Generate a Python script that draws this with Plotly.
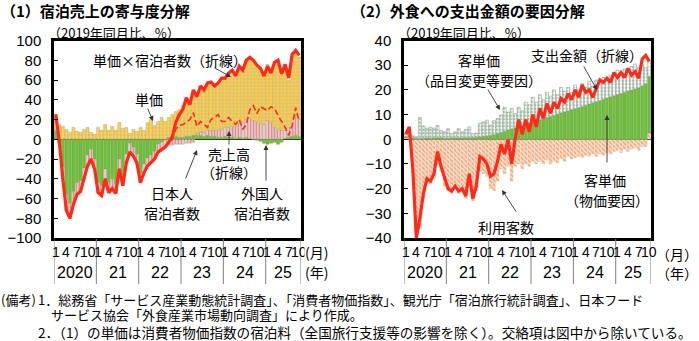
import plotly.graph_objects as go

W, H = 699, 341

# ---------------- data ----------------
month_index = list(range(70))          # Jan 2020 .. Oct 2025
month_tick_months = [1, 4, 7, 10]
year_labels = ["2020", "21", "22", "23", "24", "25"]

# Panel 1 : 宿泊売上の寄与度分解
p1_price = [15, 15, 13, 10, 7, 12, 8, 7, 10, 12, 7, 5,
            12, 9, 15, 9, 13, 9, 17, 11, 12, 6, 10, 8,
            12, 9, 17, 20, 14, 18, 22, 18, 20, 22, 25, 28,
            32, 38, 33, 45, 36, 45, 42, 47, 48, 44, 47, 51,
            49, 54, 56, 50, 57, 52, 59, 61, 60, 58, 56, 50,
            57, 52, 64, 68, 56, 65, 48, 67, 64, 63]
p1_japanese = [8, -3, -28, -56, -65, -53, -44, -42, -29, -16, -10, -20,
               -44, -47, -30, -44, -40, -45, -20, -37, -15, -4, -8, -15,
               -35, -25, -19, -16, -12, -5, -3, -1, 2, 3, 3, 2,
               2, 3, 3, 4, 4, 4, 3, 4, 3, 3, 2, 2,
               3, 2, 2, 1, 2, 1, 2, 1, 0, -1, -2, -4,
               -5, -4, -3, -5, -3, 1, 2, 3, 4, 3]
p1_foreign = [2, -2, -12, -16, -15, -13, -12, -11, -11, -11, -10, -10,
              -10, -10, -10, -10, -10, -10, -10, -10, -9, -9, -9, -9,
              -9, -9, -8, -8, -8, -8, -7, -7, -6, -6, -5, -5,
              -5, -4, -4, -3, 2, 3, 4, 5, 6, 6, 7, 8,
              9, 10, 11, 12, 14, 16, 18, 20, 19, 17, 16, 15,
              19, 17, 12, 10, 9, 8, 10, 14, 20, 17]
p1_price_x_guests = [25, -2, -40, -72, -80, -66, -56, -53, -40, -27, -20, -30,
                     -54, -57, -40, -54, -50, -55, -30, -47, -24, -13, -17, -24,
                     -44, -34, -27, -24, -20, -13, -10, -8, -3, 2, 17, 25,
                     30, 42, 35, 50, 43, 54, 50, 57, 58, 54, 57, 62,
                     62, 67, 70, 64, 74, 70, 80, 83, 80, 75, 72, 64,
                     74, 67, 78, 80, 66, 76, 62, 86, 90, 85]
p1_sales = [25, -2, -40, -72, -80, -66, -56, -53, -40, -27, -20, -30,
            -54, -57, -40, -54, -50, -55, -30, -47, -24, -13, -17, -24,
            -44, -34, -27, -24, -20, -13, -10, -8, -3, 0, 10, 14,
            15, 17, 20, 27, 13, 18, 15, 12, 20, 22, 25, 18,
            18, 22, 18, 15, 20, 10, 15, 30, 34, 26, 33, 31,
            29, 33, 31, 24, 18, 12, 4, 14, 32, 18]

# Panel 2 : 外食への支出金額の要因分解
p2_customers = [0.5, 1, -14, -39, -36, -24, -18, -18, -16, -10, -13, -19,
                -21, -22, -20, -22, -21, -24, -18, -25, -21, -13, -14, -15,
                -20, -21, -17, -12, -14, -11, -17, -11, -10, -12, -10, -11,
                -9, -10, -9, -10, -8.5, -10, -9, -9.5, -8, -9, -7, -8,
                -7.5, -7, -7.5, -6.5, -7, -6, -7, -6, -6.5, -5.5, -6, -5,
                -4.5, -5.5, -4, -5, -4, -3.5, -4.5, -3, -3, 2.5]
p2_unit_price = [0.5, 0.6, 0.6, 0.4, 0.3, 0.4, 0.5, 0.4, 0.5, 0.6, 0.5, 0.4,
                 0.4, 0.5, 0.5, 0.5, 0.5, 0.6, 0.6, 0.7, 0.8, 0.9, 1.2, 1.4,
                 1.6, 1.9, 2.3, 2.8, 3.2, 3.7, 4.2, 4.6, 5.1, 5.6, 6.2, 6.6,
                 7.0, 7.4, 7.9, 8.3, 8.8, 9.2, 9.7, 10.2, 10.6, 11.1, 11.5, 12.0,
                 12.4, 12.9, 13.3, 13.8, 14.3, 14.8, 15.2, 15.7, 16.2, 16.7, 17.2, 17.6,
                 18.1, 18.6, 19.0, 19.5, 19.9, 20.4, 20.9, 21.6, 22.5, 23.0]
p2_item_change = [1.2, 2.5, 0.8, 0.6, 8.5, 5.0, 4.0, 4.5, 4.0, 5.0, 3.0, 2.6,
                  3.9, 1.8, 2.5, 3.8, 2.5, 3.4, 4.4, 1.6, 1.7, 5.5, 5.8, 6.3,
                  4.1, 5.6, 6.1, 7.0, 9.8, 7.3, 8.3, 5.8, 7.9, 5.9, 8.8, 7.4,
                  10.0, 7.6, 10.1, 7.7, 10.2, 8.3, 10.3, 7.8, 10.4, 8.4, 9.5, 7.0,
                  9.6, 7.1, 9.2, 7.2, 9.2, 6.7, 8.8, 7.3, 8.8, 7.3, 8.8, 6.9,
                  9.9, 8.4, 9.5, 6.5, 9.6, 10.1, 8.1, 8.9, 6.5, 6.5]
p2_spending = [2, 5, -12, -40, -32, -22, -16, -17, -14, -5, -11, -16,
               -20, -21, -19, -21, -20, -23, -14, -24, -19, -7, -8, -10,
               -15, -14, -9, -2, -6, 0, -10, 0, 8, 2, 8, 3,
               10, 5, 12.5, 8.5, 14.5, 10.5, 15, 12.5, 16.5, 15, 18.5, 16,
               20, 17, 22, 19, 20, 17, 20.5, 24, 23, 24.7, 23, 27,
               25, 27, 25, 28.7, 26, 27.4, 24.7, 32.5, 34, 31.5]

# ---------------- style ----------------
JP = "Noto Sans CJK JP"
NUM = "Liberation Sans Narrow, Arial Narrow, Liberation Sans, sans-serif"
RED = "#FF2A1A"
GREEN = "#70BF3C"
EDGE = "#9A9A9A"


def px(x):
    return x / W


def py(y):
    return 1 - y / H


fig = go.Figure()

# panel 1 bars (stack order: japanese, foreign, price)
fig.add_trace(go.Bar(x=month_index, y=p1_japanese, name="日本人宿泊者数",
                     marker=dict(color=GREEN, line=dict(color="#5A9A32", width=0.4)),
                     xaxis="x", yaxis="y"))
fig.add_trace(go.Bar(x=month_index, y=p1_foreign, name="外国人宿泊者数",
                     marker=dict(color="#F4B8B8", line=dict(color=EDGE, width=0.4),
                                 pattern=dict(shape="|", fgcolor="#DA3A3A", bgcolor="#F9DADA",
                                              size=3, solidity=0.5)),
                     xaxis="x", yaxis="y"))
fig.add_trace(go.Bar(x=month_index, y=p1_price, name="単価",
                     marker=dict(color="#FFC000", line=dict(color=EDGE, width=0.4),
                                 pattern=dict(shape="+", fgcolor="#F4F4F4", bgcolor="#FFC61A",
                                              size=3.5, solidity=0.38)),
                     xaxis="x", yaxis="y"))
fig.add_trace(go.Scatter(x=month_index, y=p1_sales, mode="lines", name="売上高",
                         line=dict(color=RED, width=1.6, dash="6px,3px"),
                         xaxis="x", yaxis="y"))
fig.add_trace(go.Scatter(x=month_index, y=p1_price_x_guests, mode="lines", name="単価×宿泊者数",
                         line=dict(color=RED, width=3.2),
                         xaxis="x", yaxis="y"))

# panel 2 bars (stack order: customers, unit price, item change)
fig.add_trace(go.Bar(x=month_index, y=p2_customers, name="利用客数",
                     marker=dict(color="#F7B07A", line=dict(color="#C8C8C8", width=0.3),
                                 pattern=dict(shape="\\", fgcolor="#EE6408", bgcolor="#FDEBDC",
                                              size=3.2, solidity=0.6)),
                     xaxis="x2", yaxis="y2"))
fig.add_trace(go.Bar(x=month_index, y=p2_unit_price, name="客単価（物価要因）",
                     marker=dict(color=GREEN, line=dict(color="#5A9A32", width=0.4)),
                     xaxis="x2", yaxis="y2"))
fig.add_trace(go.Bar(x=month_index, y=p2_item_change, name="客単価（品目変更等要因）",
                     marker=dict(color="white", line=dict(color=EDGE, width=0.6),
                                 pattern=dict(shape=".", fgcolor="#1F8F32", bgcolor="white",
                                              size=3.5, solidity=0.4)),
                     xaxis="x2", yaxis="y2"))
fig.add_trace(go.Scatter(x=month_index, y=p2_spending, mode="lines", name="支出金額",
                         line=dict(color=RED, width=3.2),
                         xaxis="x2", yaxis="y2"))

axis_common = dict(showline=True, mirror=True, linecolor="black", linewidth=2.5,
                   showgrid=False, automargin=False)
xcommon = dict(axis_common, range=[-0.5, 69.5], showticklabels=False, ticks="",
               zeroline=False)
ycommon = dict(axis_common, ticks="inside", ticklen=4, tickcolor="black", tickwidth=1,
               tickfont=dict(family=NUM, size=15, color="black"),
               zeroline=True, zerolinecolor="black", zerolinewidth=1.2,
               ticklabelstandoff=7)

P1L, P1R, P2L, P2R = 54, 301, 404, 651
TOP, BOT = 40.5, 238

fig.update_layout(
    width=W, height=H, margin=dict(l=0, r=0, t=0, b=0, autoexpand=False),
    paper_bgcolor="white", plot_bgcolor="white",
    barmode="relative", bargap=0.15, showlegend=False,
    xaxis=dict(xcommon, domain=[px(P1L), px(P1R)], anchor="y"),
    yaxis=dict(ycommon, domain=[py(BOT), py(TOP)], range=[-100, 100], dtick=20, anchor="x"),
    xaxis2=dict(xcommon, domain=[px(P2L), px(P2R)], anchor="y2"),
    yaxis2=dict(ycommon, domain=[py(BOT), py(TOP)], range=[-40, 40], dtick=10, anchor="x2"),
)

ann = []
shapes = []


def text(x, y, s, size=14, family=JP, anchor="center", bold=False, xref="paper", bg=None):
    a = dict(x=x if xref != "paper" else px(x), y=py(y), xref=xref, yref="paper",
             text=("<b>%s</b>" % s) if bold else s, showarrow=False,
             font=dict(family=family, size=size, color="black"),
             xanchor=anchor, yanchor="middle", borderpad=0)
    if bg:
        a["bgcolor"] = bg
    ann.append(a)


def arrow(tail, head):
    ann.append(dict(x=px(head[0]), y=py(head[1]), xref="paper", yref="paper",
                    ax=tail[0] - head[0], ay=tail[1] - head[1], text="",
                    showarrow=True, arrowhead=2, arrowsize=1.1, arrowwidth=0.9,
                    arrowcolor="#333333"))


# titles and units
text(0, 11, "（1）宿泊売上の寄与度分解", size=15, anchor="left", bold=True)
text(350, 11, "（2）外食への支出金額の要因分解", size=15, anchor="left", bold=True)
text(47, 32, "（2019年同月比、%）", size=13, anchor="left")
text(397, 32, "（2019年同月比、%）", size=13, anchor="left")

# x axis month / year labels and separators
for xa in ("x", "x2"):
    for k, yl in enumerate(year_labels):
        for m in month_tick_months:
            idx = 12 * k + (m - 1)
            if idx < len(month_index):
                text(idx, 252, str(m), size=14, family=NUM, xref=xa)
        last = min(12 * k + 11, len(month_index) - 1)
        text((12 * k + last) / 2, 272, yl, size=16, family=NUM, xref=xa)
        shapes.append(dict(type="line", xref=xa, yref="paper", x0=12 * k - 0.5, x1=12 * k - 0.5,
                           y0=py(284), y1=py(239), line=dict(color="#808080", width=1)))
    shapes.append(dict(type="line", xref=xa, yref="paper", x0=69.5, x1=69.5,
                       y0=py(284), y1=py(239), line=dict(color="#808080", width=1)))

text(316, 252, "(月)", size=14, bg="white")
text(316, 272, "(年)", size=14)
text(699, 254, "（月）", size=14, anchor="right")
text(699, 273, "（年）", size=14, anchor="right")

# panel 1 callouts
text(170, 60, "単価×宿泊者数（折線）", size=14)
arrow((213, 67), (231, 77))
text(149, 99, "単価", size=14)
arrow((147, 107), (153, 121))
text(229, 154, "売上高", size=14)
text(229, 172, "（折線）", size=14)
arrow((229, 146), (229, 131))
text(172, 193, "日本人", size=14)
text(172, 213, "宿泊者数", size=14)
arrow((185, 180), (197, 150))
text(262, 193, "外国人", size=14)
text(262, 213, "宿泊者数", size=14)
arrow((266, 182), (266, 145))

# panel 2 callouts
text(479, 60, "客単価", size=14)
text(479, 80, "（品目変更等要因）", size=14)
arrow((487, 88), (500, 110))
text(587, 55, "支出金額（折線）", size=14)
arrow((583, 65), (597, 90))
text(605, 180, "客単価", size=14)
text(607, 200, "（物価要因）", size=14)
arrow((607, 164), (607, 115))
text(506, 227, "利用客数", size=14)
arrow((517, 213), (502, 190))

# notes
text(0, 299, "(備考)", size=13, anchor="left")
text(37, 299, "1．総務省「サービス産業動態統計調査」、「消費者物価指数」、観光庁「宿泊旅行統計調査」、日本フード",
     size=13, anchor="left")
text(50, 314, "サービス協会「外食産業市場動向調査」により作成。", size=13, anchor="left")
text(37, 332, "2．（1）の単価は消費者物価指数の宿泊料（全国旅行支援等の影響を除く）。交絡項は図中から除いている。",
     size=13.6, anchor="left")

fig.update_layout(annotations=ann, shapes=shapes)
fig.write_html("out.html")
